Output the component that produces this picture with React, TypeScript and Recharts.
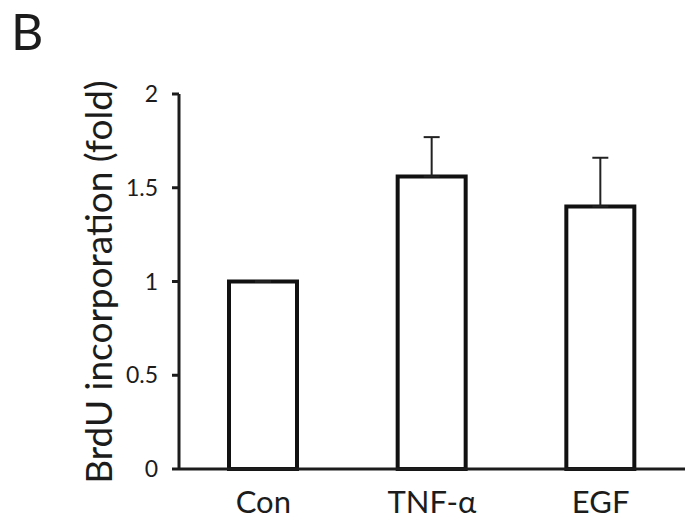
import React from 'react';
import { BarChart, Bar, XAxis, YAxis, ErrorBar, Label } from 'recharts';

const categories = ['Con', 'TNF-α', 'EGF'];
const foldValues = [1.0, 1.56, 1.4];
const upperErrors = [0, 0.21, 0.26];
const yTicks = [0, 0.5, 1, 1.5, 2];

const chartData = categories.map((name, i) => ({
  name,
  fold: foldValues[i],
  err: [0, upperErrors[i]],
}));

const FONT = 'Lato, "Open Sans", sans-serif';
const INK = '#1c1c1c';

export default function App() {
  return (
    <div style={{ position: 'absolute', left: 0, top: 0, width: 685, height: 525, background: '#fff' }}>
      <div
        style={{
          position: 'absolute',
          left: 11,
          top: 1,
          fontFamily: FONT,
          fontSize: 50,
          color: INK,
          lineHeight: '60px',
        }}
      >
        B
      </div>
      <BarChart
        width={685}
        height={525}
        data={chartData}
        margin={{ top: 94, right: 0, bottom: 0, left: 0 }}
      >
        <XAxis
          dataKey="name"
          height={56}
          axisLine={{ stroke: INK, strokeWidth: 3 }}
          tickLine={false}
          tickSize={0}
          tickMargin={22}
          tick={{ fill: INK, fontSize: 31, fontFamily: FONT }}
        />
        <YAxis
          width={179}
          domain={[0, 2]}
          ticks={yTicks}
          interval={0}
          axisLine={{ stroke: INK, strokeWidth: 3 }}
          tickLine={{ stroke: INK, strokeWidth: 3 }}
          tickSize={7}
          tickMargin={14}
          tick={{ fill: INK, fontSize: 23, fontFamily: FONT }}
        >
          <Label
            content={() => (
              <text
                x={97}
                y={282}
                transform="rotate(-90 97 282)"
                textAnchor="middle"
                dominantBaseline="central"
                fill={INK}
                fontSize={37}
                fontFamily={FONT}
              >
                BrdU incorporation (fold)
              </text>
            )}
          />
        </YAxis>
        <Bar
          dataKey="fold"
          barSize={68}
          fill="#fff"
          stroke="#111"
          strokeWidth={4}
          isAnimationActive={false}
        >
          <ErrorBar dataKey="err" width={8} stroke="#222" strokeWidth={2} direction="y" />
        </Bar>
      </BarChart>
    </div>
  );
}
